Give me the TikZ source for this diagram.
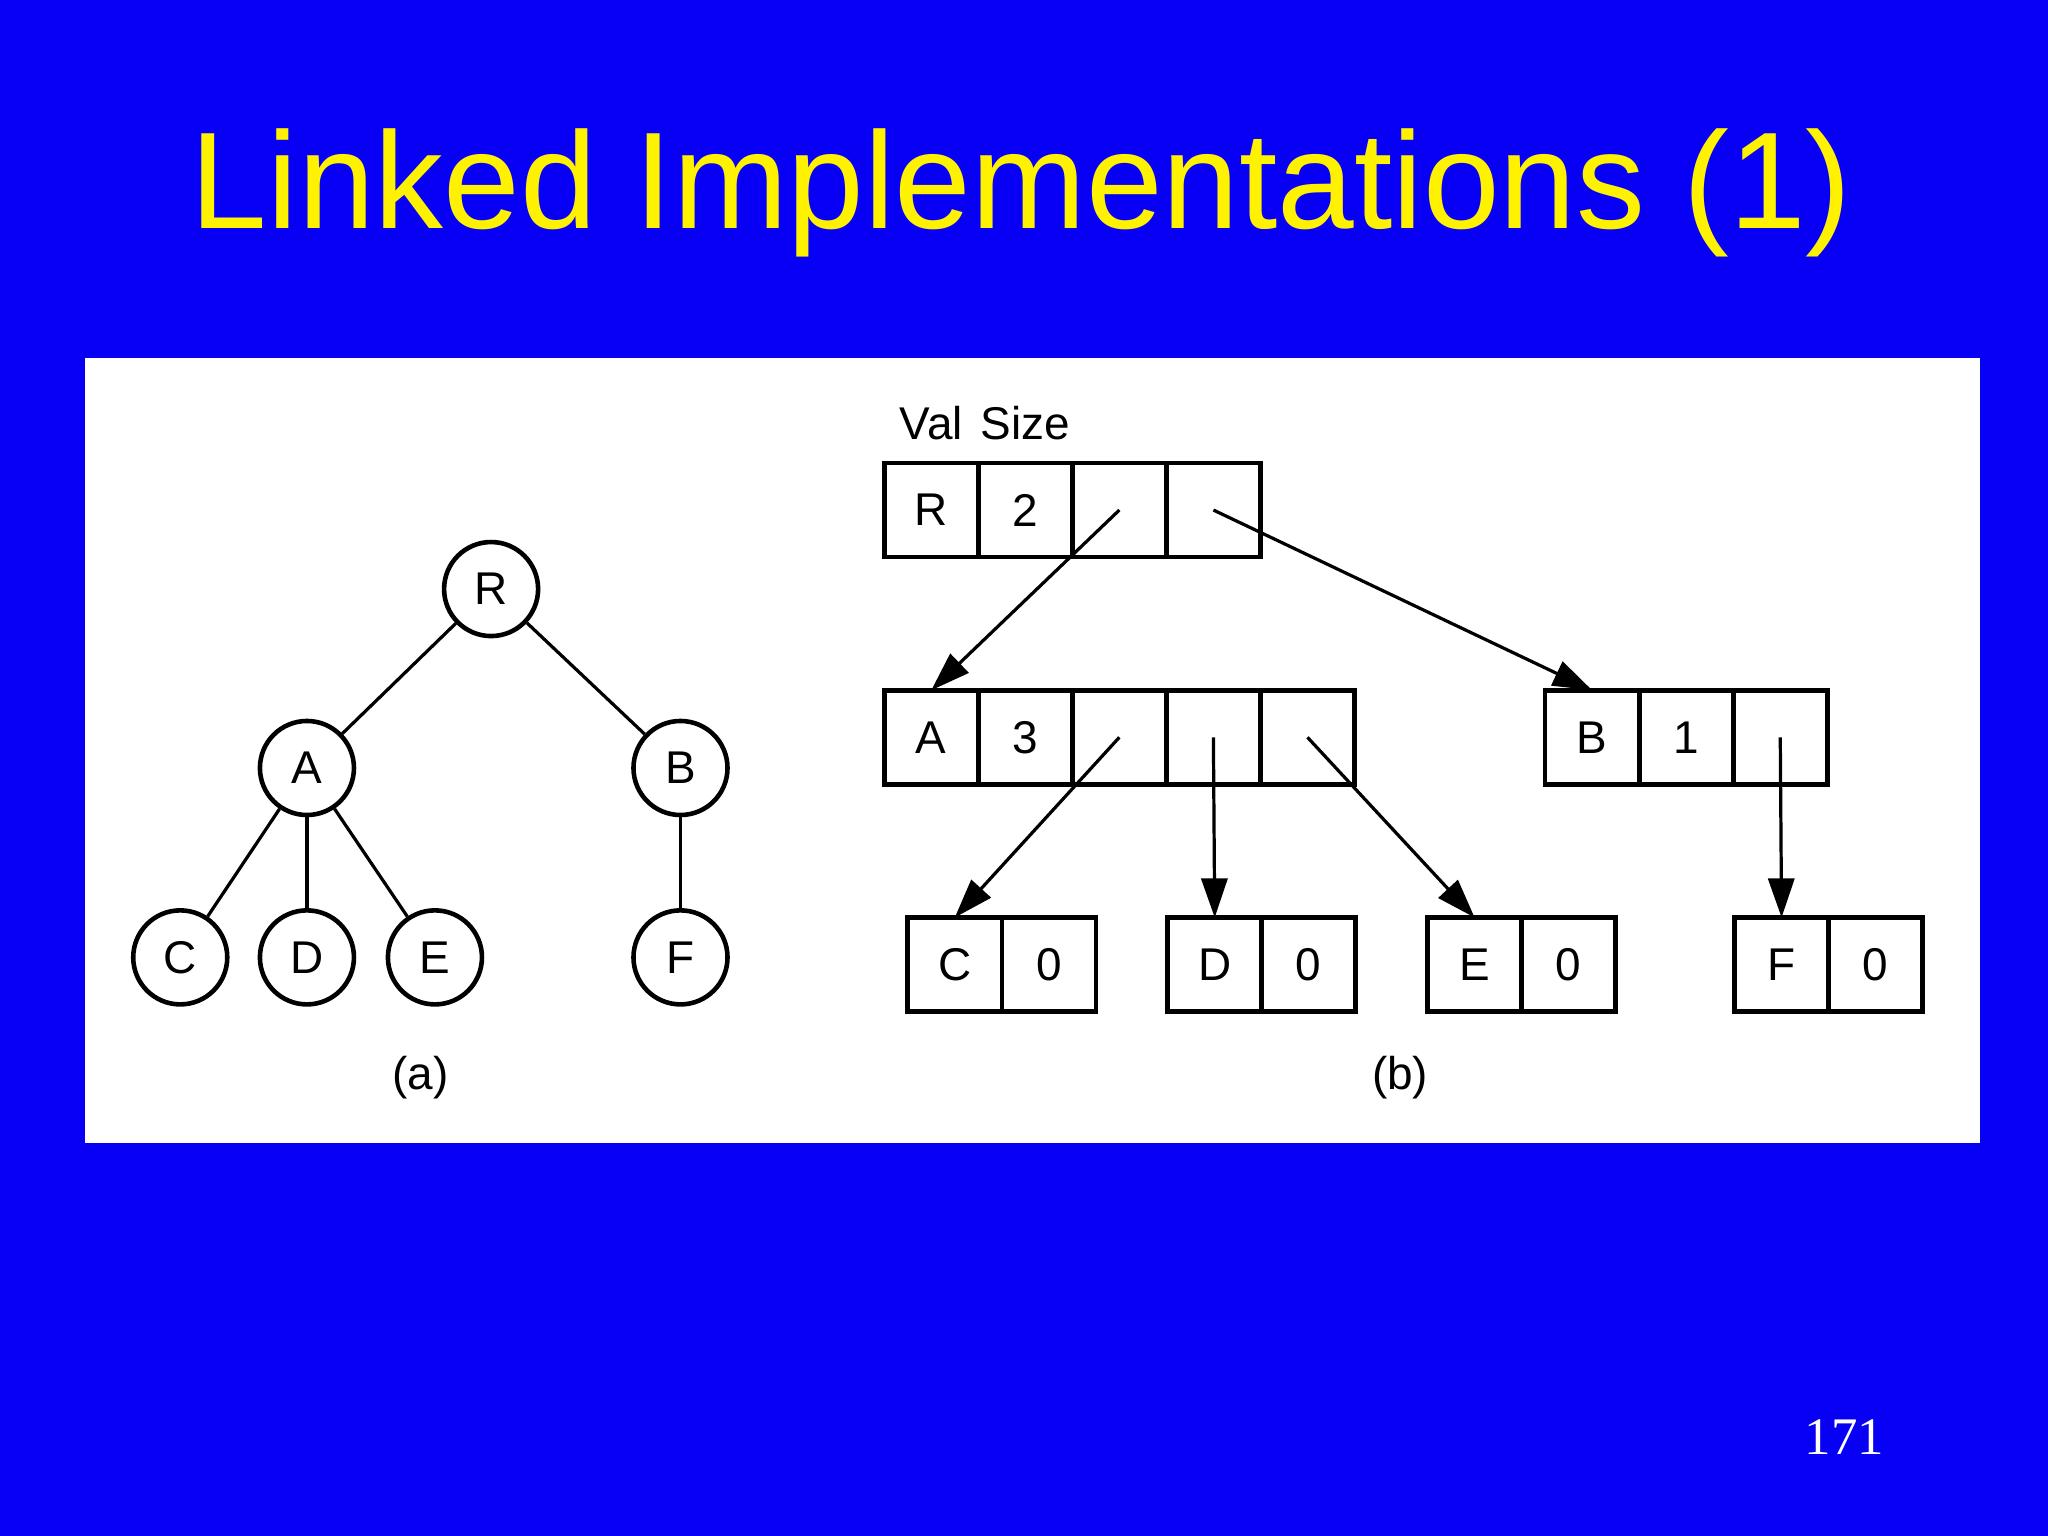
\documentclass[tikz,border=0pt]{standalone}
\usepackage{fontspec}
\setmainfont{Liberation Sans}
\newfontfamily\numfont{Liberation Serif}
\usetikzlibrary{positioning,arrows.meta}
\definecolor{slideblue}{RGB}{8,0,245}

\tikzset{
  tnode/.style={draw,circle,line width=1pt,minimum size=0.72cm,inner sep=0pt,fill=white},
  cell/.style={draw,line width=1pt,minimum width=0.72cm,minimum height=0.72cm,inner sep=0pt,outer sep=0pt},
  ptr/.style={-{Triangle[length=0.3cm,width=0.2cm]},line width=0.7pt}
}

\begin{document}
\begin{tikzpicture}[font=\fontsize{10}{12}\selectfont]

% background and frame:
\fill[slideblue] (0,0) rectangle (15.68,-11.76);
\fill[white] (0.65,-2.74) rectangle (15.16,-8.75);
\node[text=yellow,font=\fontsize{30}{36}\selectfont] (title) at (7.82,-1.48) {Linked Implementations (1)};
\node[text=white,font=\numfont\fontsize{11.5}{14}\selectfont] (page) at (14.12,-11.0) {171};

% (a) tree:
\node[tnode] (R) at (3.76,-4.51) {R};
\node[tnode] (A) at (2.35,-5.88) {A};
\node[tnode] (B) at (5.21,-5.88) {B};
\node[tnode] (C) at (1.38,-7.33) {C};
\node[tnode] (D) at (2.35,-7.33) {D};
\node[tnode] (E) at (3.33,-7.33) {E};
\node[tnode] (F) at (5.21,-7.33) {F};
\draw[line width=0.7pt] (R) -- (A);
\draw[line width=0.7pt] (R) -- (B);
\draw[line width=0.7pt] (A) -- (C);
\draw[line width=0.7pt] (A) -- (D);
\draw[line width=0.7pt] (A) -- (E);
\draw[line width=0.7pt] (B) -- (F);
\node (capa) at (3.22,-8.25) {(a)};

% (b) linked nodes:
\node[cell] (r1) at (7.13,-3.905) {R};
\node[cell,right=0pt of r1] (r2) {2};
\node[cell,right=0pt of r2] (r3) {};
\node[cell,right=0pt of r3] (r4) {};
\node[above=0.05cm of r1.north,anchor=south] (val) {Val};
\node[above=0.05cm of r2.north,anchor=south] (size) {Size};

\node[cell] (a1) at (7.13,-5.645) {A};
\node[cell,right=0pt of a1] (a2) {3};
\node[cell,right=0pt of a2] (a3) {};
\node[cell,right=0pt of a3] (a4) {};
\node[cell,right=0pt of a4] (a5) {};

\node[cell] (b1) at (12.19,-5.645) {B};
\node[cell,right=0pt of b1] (b2) {1};
\node[cell,right=0pt of b2] (b3) {};

\node[cell] (c1) at (7.31,-7.385) {C};
\node[cell,right=0pt of c1] (c2) {0};
\node[cell] (d1) at (9.30,-7.385) {D};
\node[cell,right=0pt of d1] (d2) {0};
\node[cell] (e1) at (11.29,-7.385) {E};
\node[cell,right=0pt of e1] (e2) {0};
\node[cell] (f1) at (13.64,-7.385) {F};
\node[cell,right=0pt of f1] (f2) {0};

\draw[ptr] (r3.center) -- (a1.north);
\draw[ptr] (r4.center) -- (b1.north);
\draw[ptr] (a3.center) -- (c1.north);
\draw[ptr] (a4.center) -- (d1.north);
\draw[ptr] (a5.center) -- (e1.north);
\draw[ptr] (b3.center) -- (f1.north);
\node (capb) at (10.72,-8.25) {(b)};

\end{tikzpicture}
\end{document}
